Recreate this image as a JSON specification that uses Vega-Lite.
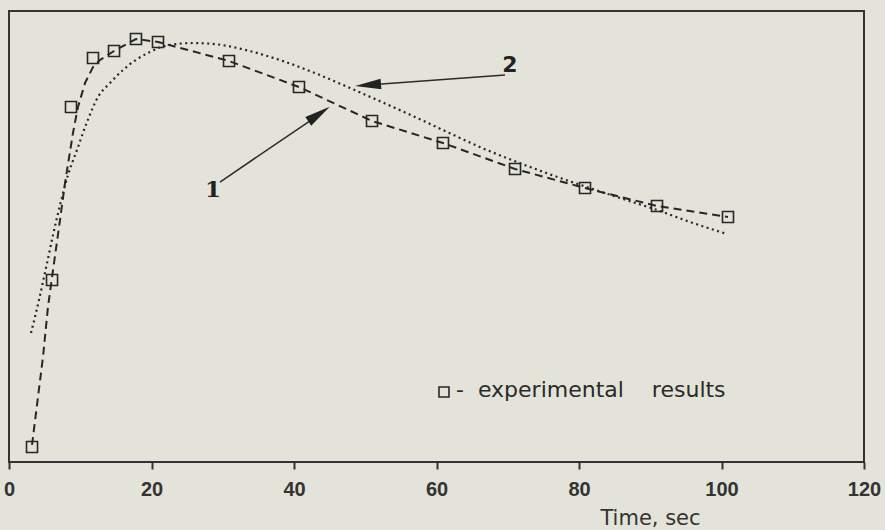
{
  "$schema": "https://vega.github.io/schema/vega-lite/v6.json",
  "width": 855,
  "height": 451,
  "autosize": {"type": "none"},
  "padding": {"left": 9, "top": 11, "right": 21, "bottom": 68},
  "background": "#e3e3d9",
  "config": {
    "view": {"stroke": "#333333", "strokeWidth": 2, "fill": "#e3e3d9"}
  },
  "datasets": {
    "dashed": [
      {"t": 3.23, "v": 3.77}, {"t": 4.77, "v": 23.28}, {"t": 5.47, "v": 34.37}, {"t": 6.18, "v": 42.57},
      {"t": 7.16, "v": 53.66}, {"t": 7.86, "v": 61.86}, {"t": 8.98, "v": 72.95}, {"t": 9.68, "v": 78.71},
      {"t": 10.67, "v": 84.04}, {"t": 11.79, "v": 87.58}, {"t": 12.77, "v": 89.14}, {"t": 14.74, "v": 91.13},
      {"t": 17.82, "v": 93.79}, {"t": 20.91, "v": 93.13}, {"t": 30.88, "v": 88.91}, {"t": 40.70, "v": 83.15},
      {"t": 50.95, "v": 75.61}, {"t": 60.91, "v": 70.73}, {"t": 71.02, "v": 64.97}, {"t": 80.84, "v": 60.75},
      {"t": 90.95, "v": 56.76}, {"t": 100.91, "v": 54.32}
    ],
    "dotted": [
      {"t": 3.09, "v": 28.60}, {"t": 4.21, "v": 35.92}, {"t": 5.19, "v": 43.02}, {"t": 6.18, "v": 50.33},
      {"t": 7.16, "v": 56.98}, {"t": 8.28, "v": 63.64}, {"t": 9.54, "v": 69.18}, {"t": 10.95, "v": 75.39},
      {"t": 12.49, "v": 80.93}, {"t": 14.18, "v": 84.04}, {"t": 16.00, "v": 86.92}, {"t": 17.96, "v": 89.30},
      {"t": 19.79, "v": 90.91}, {"t": 21.19, "v": 91.92}, {"t": 22.60, "v": 92.46}, {"t": 25.82, "v": 92.90},
      {"t": 29.19, "v": 92.60}, {"t": 33.82, "v": 91.11}, {"t": 38.46, "v": 88.89}, {"t": 43.23, "v": 86.05},
      {"t": 47.86, "v": 82.93}, {"t": 52.49, "v": 79.70}, {"t": 57.26, "v": 76.30}, {"t": 61.89, "v": 72.88},
      {"t": 66.53, "v": 69.54}, {"t": 71.30, "v": 66.52}, {"t": 75.93, "v": 63.78}, {"t": 80.84, "v": 61.10},
      {"t": 85.75, "v": 58.54}, {"t": 90.95, "v": 55.88}, {"t": 95.58, "v": 53.22}, {"t": 100.77, "v": 50.55}
    ],
    "exp": [
      {"t": 3.23, "v": 3.33}, {"t": 6.04, "v": 40.35}, {"t": 8.70, "v": 78.71}, {"t": 11.79, "v": 89.58},
      {"t": 14.74, "v": 91.13}, {"t": 17.82, "v": 93.79}, {"t": 20.91, "v": 93.13}, {"t": 30.88, "v": 88.91},
      {"t": 40.70, "v": 83.15}, {"t": 50.95, "v": 75.61}, {"t": 60.91, "v": 70.73}, {"t": 71.02, "v": 64.97},
      {"t": 80.84, "v": 60.75}, {"t": 90.95, "v": 56.76}, {"t": 100.91, "v": 54.32}
    ],
    "arrows": [
      {"id": "1", "t": 29.61, "v": 62.08, "t2": 43.65, "v2": 77.16},
      {"id": "2", "t": 69.61, "v": 85.81, "t2": 50.39, "v2": 83.59}
    ],
    "heads": [
      {"id": "1", "t": 43.51, "v": 77.16},
      {"id": "2", "t": 50.39, "v": 83.59}
    ],
    "labels": [
      {"id": "1", "t": 28.63, "v": 60.31},
      {"id": "2", "t": 70.32, "v": 88.03}
    ],
    "legend": [
      {"t": 61.05, "v": 15.52, "t2": 62.74, "v2": 14.41, "label": "-\u00a0 experimental\u00a0\u00a0\u00a0 results"}
    ]
  },
  "encoding": {
    "x": {
      "field": "t", "type": "quantitative",
      "scale": {"domain": [0, 120], "nice": false, "zero": false},
      "axis": {
        "values": [0, 20, 40, 60, 80, 100, 120],
        "grid": false, "domain": false,
        "tickColor": "#333333", "tickSize": 7, "tickWidth": 2,
        "labelFont": "Liberation Sans", "labelFontWeight": "bold", "labelFontSize": 20,
        "labelColor": "#333333", "labelPadding": 10, "labelFlush": false, "labelOverlap": false,
        "title": "Time, sec", "titleFont": "DejaVu Sans", "titleFontWeight": "normal",
        "titleFontSize": 21, "titleColor": "#333333", "titleX": 641, "titleY": 62,
        "titleBaseline": "alphabetic", "titleAnchor": "middle", "titleAlign": "center"
      }
    },
    "y": {
      "field": "v", "type": "quantitative",
      "scale": {"domain": [0, 100], "nice": false, "zero": false},
      "axis": null
    }
  },
  "layer": [
    {
      "data": {"name": "dashed"},
      "mark": {"type": "line", "color": "#262626", "strokeWidth": 2, "strokeDash": [8, 5]},
      "encoding": {}
    },
    {
      "data": {"name": "dotted"},
      "mark": {"type": "line", "color": "#262626", "strokeWidth": 2.2, "strokeDash": [2, 3.5], "interpolate": "monotone"},
      "encoding": {}
    },
    {
      "data": {"name": "exp"},
      "mark": {"type": "point", "shape": "square", "filled": false, "size": 121, "color": "#262626", "strokeWidth": 1.6, "opacity": 1}
    },
    {
      "data": {"name": "arrows"},
      "mark": {"type": "rule", "color": "#2a2a2a", "strokeWidth": 1.5},
      "encoding": {
        "x2": {"field": "t2"},
        "y2": {"field": "v2"}
      }
    },
    {
      "data": {"name": "heads"},
      "transform": [{"filter": "datum.id == '1'"}],
      "mark": {"type": "point", "shape": "M0,-1L0.4,1L-0.4,1Z", "filled": true, "size": 676, "color": "#222222", "opacity": 1, "angle": 55.7}
    },
    {
      "data": {"name": "heads"},
      "transform": [{"filter": "datum.id == '2'"}],
      "mark": {"type": "point", "shape": "M0,-1L0.4,1L-0.4,1Z", "filled": true, "size": 676, "color": "#222222", "opacity": 1, "angle": 265.8}
    },
    {
      "data": {"name": "labels"},
      "transform": [{"filter": "datum.id == '1'"}],
      "mark": {"type": "text", "font": "DejaVu Serif", "fontWeight": "bold", "fontSize": 23, "color": "#222222", "align": "center", "baseline": "middle"},
      "encoding": {"text": {"field": "id"}}
    },
    {
      "data": {"name": "labels"},
      "transform": [{"filter": "datum.id == '2'"}],
      "mark": {"type": "text", "font": "DejaVu Sans", "fontWeight": "bold", "fontSize": 22, "color": "#222222", "align": "center", "baseline": "middle"},
      "encoding": {"text": {"field": "id"}}
    },
    {
      "data": {"name": "legend"},
      "mark": {"type": "point", "shape": "square", "filled": false, "size": 100, "color": "#262626", "strokeWidth": 1.6, "opacity": 1}
    },
    {
      "data": {"name": "legend"},
      "mark": {"type": "text", "font": "DejaVu Sans", "fontSize": 22, "color": "#2a2a2a", "align": "left", "baseline": "alphabetic"},
      "encoding": {
        "x": {"field": "t2", "type": "quantitative"},
        "y": {"field": "v2", "type": "quantitative"},
        "text": {"field": "label"}
      }
    }
  ]
}
